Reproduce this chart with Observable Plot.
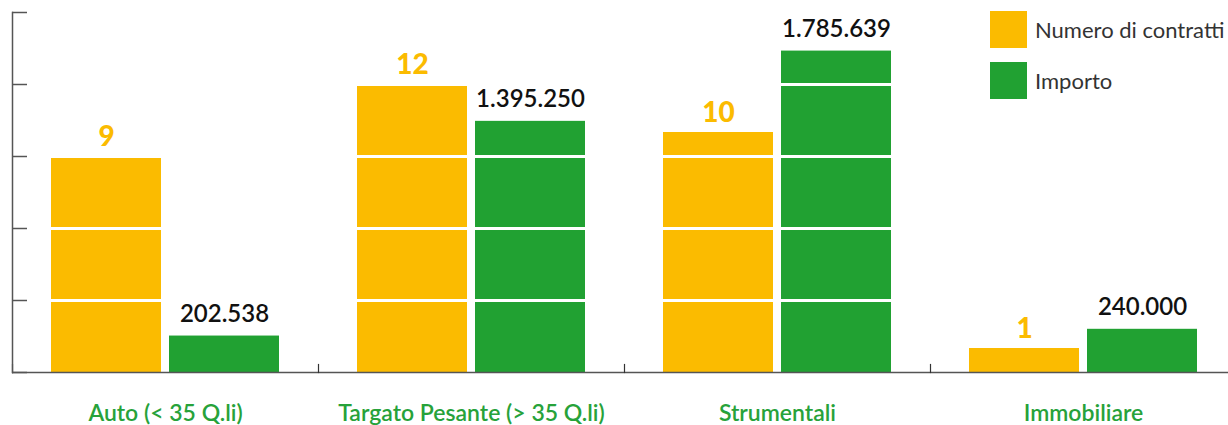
<!DOCTYPE html>
<html>
<head>
<meta charset="utf-8">
<script src="https://cdn.jsdelivr.net/npm/d3@7"></script>
<script src="https://cdn.jsdelivr.net/npm/@observablehq/plot@0.6"></script>
<style>
  html, body { margin: 0; padding: 0; background: #fff; }
  #wrap { position: relative; width: 1228px; height: 425px; overflow: hidden; font-family: Lato, "Open Sans", sans-serif; }
  .legend { position: absolute; left: 990px; display: flex; align-items: center; font-size: 22px; color: #333; }
  .legend .sw { width: 37px; height: 37px; margin-right: 8px; }
</style>
</head>
<body>
<div id="wrap"></div>
<script>
// ---- data ----
const categories = ["Auto (< 35 Q.li)", "Targato Pesante (> 35 Q.li)", "Strumentali", "Immobiliare"];
const seriesNames = ["Numero di contratti", "Importo"];
const contratti = [9, 12, 10, 1];
const importo = [202538, 1395250, 1785639, 240000];
const contrattiAxisMax = 15;        // left scale top
const importoAxisMax = 2000000;     // secondary scale top
const gridTicks = [0, 3, 6, 9, 12, 15];
const colors = ["#fbbb00", "#21a132"];

const fmt = d3.formatLocale({decimal: ",", thousands: ".", grouping: [3], currency: ["€", ""]}).format(",d");

const rows = [];
categories.forEach((c, i) => {
  rows.push({cat: c, series: seriesNames[0], value: contratti[i], y: contratti[i], label: String(contratti[i])});
  rows.push({cat: c, series: seriesNames[1], value: importo[i], y: importo[i] * contrattiAxisMax / importoAxisMax, label: fmt(importo[i])});
});

const chart = Plot.plot({
  width: 1228,
  height: 425,
  marginTop: 12,
  marginBottom: 53,
  marginLeft: 12,
  marginRight: -8,
  style: {fontFamily: "Lato, 'Open Sans', sans-serif", background: "transparent", overflow: "visible"},
  fx: {domain: categories, padding: 0},
  x: {domain: seriesNames, paddingInner: 8 / 118, paddingOuter: 0.33, axis: null},
  y: {domain: [0, contrattiAxisMax]},
  color: {domain: seriesNames, range: colors},
  marks: [
    Plot.barY(rows, {fx: "cat", x: "series", y: "y", fill: "series"}),
    Plot.gridY(gridTicks.filter(d => d > 0), {stroke: "white", strokeOpacity: 1, strokeWidth: 3}),
    Plot.ruleY([0], {stroke: "#555", strokeWidth: 1.5}),
    Plot.frame({anchor: "left", insetTop: 352, stroke: "#333", strokeWidth: 1.2}),
    Plot.frame({anchor: "left", stroke: "#555", strokeWidth: 1.5, facetAnchor: "left"}),
    Plot.axisY(gridTicks, {anchor: "left", tickSize: -15, tickFormat: () => "", stroke: "#555", strokeWidth: 1.5, label: null}),
    Plot.text(rows.filter(d => d.series === seriesNames[0]), {
      fx: "cat", x: "series", y: "y", text: "label", dy: -11, lineAnchor: "bottom",
      fill: colors[0], fontSize: 28, fontWeight: 900
    }),
    Plot.text(rows.filter(d => d.series === seriesNames[1]), {
      fx: "cat", x: "series", y: "y", text: "label", dy: -14, lineAnchor: "bottom",
      fill: "#111", fontSize: 24, fontWeight: 600
    }),
    Plot.axisFx({anchor: "bottom", tickSize: 0, tickPadding: 32, fontSize: 23, fontWeight: 600, fill: "#27a23a", label: null})
  ]
});

const wrap = document.getElementById("wrap");
wrap.appendChild(chart);

// legend
seriesNames.forEach((name, i) => {
  const item = document.createElement("div");
  item.className = "legend";
  item.style.top = (i === 0 ? 11 : 62) + "px";
  const sw = document.createElement("div");
  sw.className = "sw";
  sw.style.background = colors[i];
  const tx = document.createElement("span");
  tx.textContent = name;
  item.appendChild(sw);
  item.appendChild(tx);
  wrap.appendChild(item);
});
</script>
</body>
</html>
